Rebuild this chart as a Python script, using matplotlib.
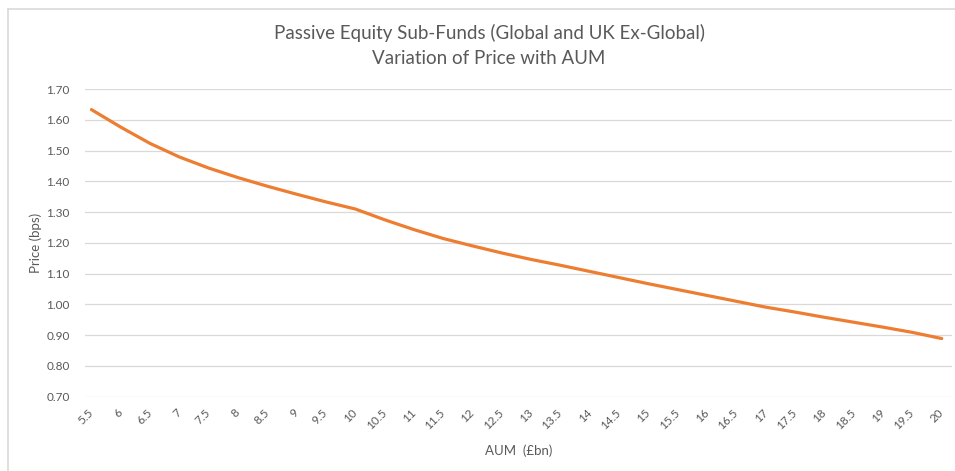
import matplotlib
matplotlib.use("Agg")
import matplotlib.pyplot as plt
from matplotlib.lines import Line2D

# AUM in £bn (category axis) and price in bps
aum = ["5.5", "6", "6.5", "7", "7.5", "8", "8.5", "9", "9.5", "10",
       "10.5", "11", "11.5", "12", "12.5", "13", "13.5", "14", "14.5", "15",
       "15.5", "16", "16.5", "17", "17.5", "18", "18.5", "19", "19.5", "20"]
price = [1.633, 1.576, 1.523, 1.479, 1.443, 1.412, 1.384, 1.358, 1.333, 1.310,
         1.275, 1.243, 1.214, 1.190, 1.167, 1.146, 1.127, 1.107, 1.087, 1.067,
         1.048, 1.029, 1.010, 0.991, 0.975, 0.958, 0.942, 0.926, 0.909, 0.889]
yticks = [0.70, 0.80, 0.90, 1.00, 1.10, 1.20, 1.30, 1.40, 1.50, 1.60, 1.70]

txt = "#595959"
plt.rcParams["font.family"] = ["Lato", "DejaVu Sans"]

W, H = 955, 471
fig = plt.figure(figsize=(W / 100, H / 100), dpi=100)
ax = fig.add_axes([85 / W, 1 - 396.7 / H, (952 - 85) / W, (396.7 - 89) / H])

x = list(range(len(aum)))
ax.plot(x, price, color="#ED7D31", lw=2.3, solid_capstyle="round")

ax.set_xlim(-0.22, 29.35)
ax.set_ylim(0.70, 1.70)
ax.set_yticks(yticks)
ax.set_yticklabels(["%.2f" % v for v in yticks], color=txt, fontsize=8.5)
ax.set_xticks(x)
ax.set_xticklabels(aum, color=txt, fontsize=8.5, rotation=45,
                   ha="right", va="center", rotation_mode="anchor")
ax.tick_params(axis="both", length=0)
ax.tick_params(axis="y", pad=11)
ax.tick_params(axis="x", pad=10)
ax.grid(axis="y", color="#D9D9D9", lw=0.9)
ax.set_axisbelow(True)
for s in ax.spines.values():
    s.set_visible(False)

ax.set_ylabel("Price (bps)", color=txt, fontsize=9.5, labelpad=3)
ax.set_xlabel("AUM  (£bn)", color=txt, fontsize=9.5, labelpad=10)

fig.text(489 / W, 1 - 33 / H, "Passive Equity Sub-Funds (Global and UK Ex-Global)",
         ha="center", va="center", color=txt, fontsize=13.5)
fig.text(489 / W, 1 - 58 / H, "Variation of Price with AUM",
         ha="center", va="center", color=txt, fontsize=13.5)

# chart area border (cropped at right and bottom)
fig.add_artist(Line2D([7.5 / W, 1], [1 - 8.5 / H, 1 - 8.5 / H], color="#D9D9D9", lw=1.2))
fig.add_artist(Line2D([7.5 / W, 7.5 / W], [0, 1 - 8.5 / H], color="#D9D9D9", lw=1.2))

fig.savefig("out.png", dpi=100, facecolor="white")
